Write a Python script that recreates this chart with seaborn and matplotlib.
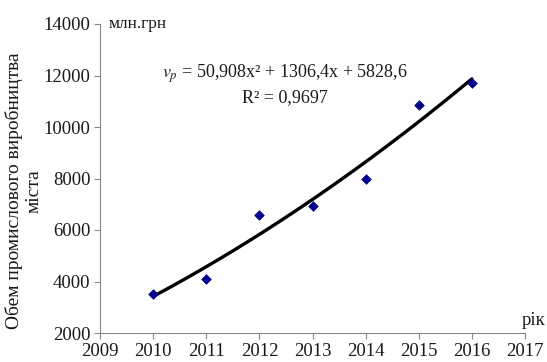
import numpy as np
import pandas as pd
import matplotlib
matplotlib.use("Agg")
import matplotlib.pyplot as plt
import seaborn as sns

# Industrial production volume of the city, mln UAH
years = [2010, 2011, 2012, 2013, 2014, 2015, 2016]
volume = [3500, 4100, 6600, 6950, 8000, 10850, 11700]

# Polynomial trend v_p = a*x^2 + b*x + c, with x counted from 2012
trend_coef = [50.908, 1306.4, 5828.6]
trend_origin = 2012
r_squared = 0.9697

x_ticks = [2009, 2010, 2011, 2012, 2013, 2014, 2015, 2016, 2017]
y_ticks = [2000, 4000, 6000, 8000, 10000, 12000, 14000]

sns.set_theme(style="white")
plt.rcParams["font.family"] = ["Liberation Serif", "DejaVu Serif"]
plt.rcParams["mathtext.fontset"] = "stix"

fig = plt.figure(figsize=(5.47, 3.62), dpi=100)
ax = fig.add_axes([100 / 547, 1 - 333 / 362, 425 / 547, 309 / 362])

df = pd.DataFrame({"year": years, "volume": volume})
xs = np.linspace(years[0], years[-1], 200)
t = xs - trend_origin
trend = pd.DataFrame({"year": xs,
                      "volume": trend_coef[0] * t ** 2 + trend_coef[1] * t + trend_coef[2]})

sns.lineplot(data=trend, x="year", y="volume", ax=ax, color="black", linewidth=2.4, zorder=2)
sns.scatterplot(data=df, x="year", y="volume", ax=ax, marker="D", s=24,
                color="#00008B", edgecolor="#00008B", linewidth=0.5, zorder=3)

ax.set_xlim(x_ticks[0], x_ticks[-1])
ax.set_ylim(y_ticks[0], y_ticks[-1])
ax.set_xticks(x_ticks)
ax.set_yticks(y_ticks)
ax.tick_params(axis="both", labelsize=13.5, colors="#1a1a1a", length=4, width=0.8,
               direction="out", color="#888888", bottom=True, left=True, pad=3)
for side in ("top", "right"):
    ax.spines[side].set_visible(False)
for side in ("left", "bottom"):
    ax.spines[side].set_color("#888888")
    ax.spines[side].set_linewidth(0.8)

ax.set_xlabel("")
ax.set_ylabel("Обем промислового виробництва\nміста", fontsize=14, color="#1a1a1a",
              linespacing=1.2)
ax.yaxis.set_label_coords(-0.136, 0.46)

ax.text(0.02, 1.0, "млн.грн", transform=ax.transAxes, fontsize=12.5,
        color="#1a1a1a", ha="left", va="center")
ax.text(0.993, 0.012, "рік", transform=ax.transAxes, fontsize=13.5,
        color="#1a1a1a", ha="left", va="bottom")

eq = (f"$v_p$ = {str(trend_coef[0]).replace('.', ',')}x² + "
      f"{str(trend_coef[1]).replace('.', ',')}x + {str(trend_coef[2]).replace('.', ',')}\n"
      f"R² = {str(r_squared).replace('.', ',')}")
ax.text(2012.48, 11650, eq, fontsize=13, color="#1a1a1a", ha="center", va="center",
        linespacing=1.3)

fig.savefig("out.png", dpi=100)
